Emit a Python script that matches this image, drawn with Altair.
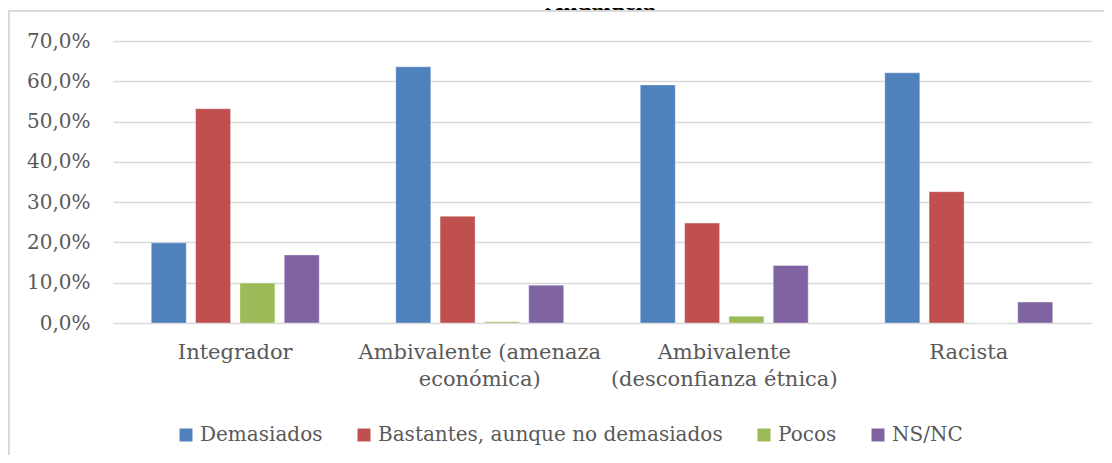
import altair as alt
import pandas as pd

categorias = [
    "Integrador",
    "Ambivalente (amenaza económica)",
    "Ambivalente (desconfianza étnica)",
    "Racista",
]
etiquetas = [
    ["Integrador"],
    ["Ambivalente (amenaza", "económica)"],
    ["Ambivalente", "(desconfianza étnica)"],
    ["Racista"],
]
series = ["Demasiados", "Bastantes, aunque no demasiados", "Pocos", "NS/NC"]
colores = ["#4F81BD", "#C0504D", "#9BBB59", "#8064A2"]

demasiados = [19.9, 63.6, 59.1, 62.1]
bastantes = [53.2, 26.5, 24.8, 32.6]
pocos = [9.9, 0.3, 1.7, 0.0]
nsnc = [16.9, 9.4, 14.3, 5.2]

titulo = "Andalucía"

valores = [demasiados, bastantes, pocos, nsnc]
rows = []
for s, vals in zip(series, valores):
    for c, v in zip(categorias, vals):
        rows.append({"Categoria": c, "Serie": s, "Valor": v})
df = pd.DataFrame(rows)

W, H = 978, 282
PAD_L, PAD_T, PAD_R, PAD_B = 105, 33, 13, 132
FONT = "DejaVu Serif"
TXT = "#595959"
GRID = "#D9D9D9"

label_expr = " : ".join(
    f"datum.value == '{c}' ? {l!r}" for c, l in zip(categorias, etiquetas)
) + " : datum.label"

bars = alt.Chart(df).mark_bar(stroke="white", strokeOpacity=0.35, strokeWidth=1).encode(
    x=alt.X(
        "Categoria:N",
        sort=categorias,
        scale=alt.Scale(paddingInner=0.275, paddingOuter=0.1375),
        axis=alt.Axis(
            title=None,
            labelAngle=0,
            domain=False,
            ticks=False,
            labelExpr=label_expr,
            labelFont=FONT,
            labelFontSize=21,
            labelColor=TXT,
            labelPadding=18,
            labelLineHeight=27,
            labelBaseline="top",
            labelLimit=0,
        ),
    ),
    xOffset=alt.XOffset(
        "Serie:N", sort=series, scale=alt.Scale(paddingInner=0.21, paddingOuter=0.105)
    ),
    y=alt.Y(
        "Valor:Q",
        scale=alt.Scale(domain=[0, 70], nice=False),
        axis=alt.Axis(
            title=None,
            values=[0, 10, 20, 30, 40, 50, 60, 70],
            labelExpr="replace(format(datum.value, '.1f'), '.', ',') + '%'",
            domain=False,
            ticks=False,
            grid=True,
            gridColor=GRID,
            gridWidth=1.5,
            labelFont=FONT,
            labelFontSize=20,
            labelColor=TXT,
            labelPadding=23,
        ),
    ),
    color=alt.Color(
        "Serie:N",
        sort=series,
        scale=alt.Scale(domain=series, range=colores),
        legend=alt.Legend(
            title=None,
            orient="none",
            direction="horizontal",
            legendX=63,
            legendY=384,
            symbolType="square",
            symbolSize=169,
            symbolStrokeWidth=0,
            labelFont=FONT,
            labelFontSize=20,
            labelColor=TXT,
            labelOffset=4,
            labelLimit=0,
            columnPadding=31,
            padding=0,
        ),
    ),
)

frame_top = alt.Chart(df).mark_rule(color=GRID, strokeWidth=1.5).encode(
    x=alt.value(-PAD_L + 0.75), x2=alt.value(W + PAD_R), y=alt.value(-PAD_T + 2.75)
)
frame_left = alt.Chart(df).mark_rule(color=GRID, strokeWidth=1.5).encode(
    x=alt.value(-PAD_L + 0.75), y=alt.value(-PAD_T + 2.75), y2=alt.value(H + PAD_B)
)
title_mark = alt.Chart(pd.DataFrame({"t": [titulo]})).mark_text(
    font="Liberation Serif", fontWeight="bold", fontSize=25, color="#000000",
    baseline="alphabetic", align="center"
).encode(text="t:N", x=alt.value(600 - 8 - PAD_L), y=alt.value(-PAD_T + 2))

chart = alt.layer(bars, frame_top, frame_left, title_mark).properties(
    width=W,
    height=H,
    padding={"left": PAD_L, "top": PAD_T, "right": PAD_R, "bottom": PAD_B},
    autosize=alt.AutoSizeParams(type="none"),
).configure_view(stroke=None)

chart.save("out.html", embed_options={"renderer": "svg", "actions": False})
